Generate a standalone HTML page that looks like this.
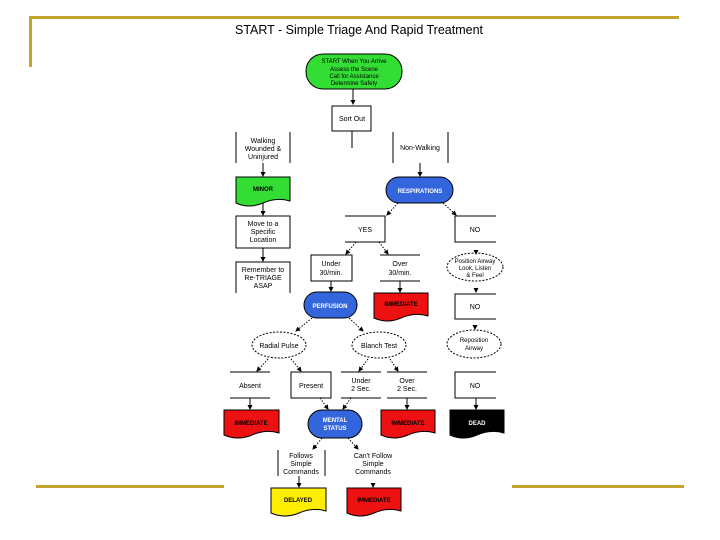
<!DOCTYPE html>
<html><head><meta charset="utf-8"><style>
html,body{margin:0;padding:0;background:#fff;width:720px;height:540px;overflow:hidden}
svg{display:block}
text{font-family:"Liberation Sans",sans-serif;font-size:7px;fill:#000;text-anchor:middle}
.w{fill:#fff;font-weight:bold;font-size:6px}
.b{font-weight:bold;font-size:6px}
</style></head><body>
<svg width="720" height="540" viewBox="0 0 720 540">
<defs><marker id="a" markerWidth="5" markerHeight="5" refX="4" refY="2.5" orient="auto"><path d="M0,0L5,2.5L0,5z" fill="#000"/></marker></defs>
<g fill="#c4a22e">
<rect x="29" y="16" width="650" height="3"/>
<rect x="29" y="16" width="3" height="51"/>
<rect x="36" y="485" width="188" height="3"/>
<rect x="512" y="485" width="172" height="3"/>
</g>
<text x="359" y="34" style="font-size:12.5px">START - Simple Triage And Rapid Treatment</text>
<g stroke="#000" stroke-width="1" fill="none">
<!-- start -->
<rect x="306" y="54" width="96" height="35" rx="17" fill="#33dd33"/>
<line x1="353" y1="89" x2="353" y2="104" marker-end="url(#a)"/>
<rect x="332" y="106" width="39" height="25" fill="#fff"/>
<line x1="352" y1="131" x2="352" y2="148"/>
<!-- walking -->
<line x1="236" y1="132" x2="236" y2="163"/><line x1="290" y1="132" x2="290" y2="163"/>
<line x1="393" y1="132" x2="393" y2="163"/><line x1="448" y1="132" x2="448" y2="163"/>
<line x1="263" y1="163" x2="263" y2="176" marker-end="url(#a)"/>
<line x1="420" y1="163" x2="420" y2="176" marker-end="url(#a)"/>
<path d="M236,177h54v24q-13,-4 -27,2t-27,0z" fill="#33dd33"/>
<rect x="386" y="177" width="67" height="26" rx="13" fill="#3366dd"/>
<line x1="263" y1="203" x2="263" y2="215" marker-end="url(#a)"/>
<rect x="236" y="216" width="54" height="32" fill="#fff"/>
<line x1="263" y1="248" x2="263" y2="261" marker-end="url(#a)"/>
<path d="M236,293v-31h54v31"/>
<!-- yes/no -->
<line x1="398" y1="203" x2="387" y2="215" stroke-dasharray="1.5,1.5" marker-end="url(#a)"/>
<line x1="443" y1="203" x2="456" y2="215" stroke-dasharray="1.5,1.5" marker-end="url(#a)"/>
<path d="M345,216h40v26h-40"/>
<path d="M496,216h-41v26h41"/>
<line x1="356" y1="242" x2="346" y2="254" stroke-dasharray="1.5,1.5" marker-end="url(#a)"/>
<line x1="379" y1="242" x2="388" y2="254" stroke-dasharray="1.5,1.5" marker-end="url(#a)"/>
<rect x="311" y="255" width="41" height="26"/>
<path d="M380,255h40M380,281h40"/>
<line x1="476" y1="250" x2="476" y2="254" marker-end="url(#a)"/>
<ellipse cx="475" cy="267" rx="28" ry="14" stroke-dasharray="2,1.5"/>
<line x1="331" y1="281" x2="331" y2="291" marker-end="url(#a)"/>
<line x1="400" y1="281" x2="400" y2="292" marker-end="url(#a)"/>
<rect x="304" y="292" width="53" height="26" rx="13" fill="#3366dd"/>
<path d="M374,293h54v23q-13,-4 -27,2t-27,0z" fill="#ee1111"/>
<line x1="476" y1="290" x2="476" y2="292" marker-end="url(#a)"/>
<path d="M496,294h-41v25h41"/>
<!-- perfusion branches -->
<line x1="312" y1="318" x2="296" y2="331" stroke-dasharray="1.5,1.5" marker-end="url(#a)"/>
<line x1="349" y1="318" x2="363" y2="331" stroke-dasharray="1.5,1.5" marker-end="url(#a)"/>
<ellipse cx="279" cy="345" rx="27" ry="13" stroke-dasharray="2,1.5"/>
<ellipse cx="379" cy="345" rx="27" ry="13" stroke-dasharray="2,1.5"/>
<line x1="475" y1="326" x2="475" y2="329" marker-end="url(#a)"/>
<ellipse cx="474" cy="344" rx="27" ry="14" stroke-dasharray="2,1.5"/>
<line x1="268" y1="359" x2="257" y2="371" stroke-dasharray="1.5,1.5" marker-end="url(#a)"/>
<line x1="291" y1="359" x2="301" y2="371" stroke-dasharray="1.5,1.5" marker-end="url(#a)"/>
<line x1="368" y1="359" x2="359" y2="371" stroke-dasharray="1.5,1.5" marker-end="url(#a)"/>
<line x1="390" y1="359" x2="398" y2="371" stroke-dasharray="1.5,1.5" marker-end="url(#a)"/>
<path d="M230,372h40M230,398h40"/>
<rect x="291" y="372" width="40" height="26"/>
<path d="M341,372h40M341,398h40M387,372h40M387,398h40"/>
<path d="M496,372h-41v26h41"/>
<line x1="250" y1="398" x2="250" y2="409" marker-end="url(#a)"/>
<line x1="320" y1="398" x2="328" y2="409" stroke-dasharray="1.5,1.5" marker-end="url(#a)"/>
<line x1="351" y1="398" x2="343" y2="409" stroke-dasharray="1.5,1.5" marker-end="url(#a)"/>
<line x1="407" y1="398" x2="407" y2="409" marker-end="url(#a)"/>
<line x1="476" y1="398" x2="476" y2="409" marker-end="url(#a)"/>
<path d="M224,410h55v23q-13,-4 -27,2t-28,0z" fill="#ee1111"/>
<rect x="308" y="410" width="54" height="28" rx="14" fill="#3366dd"/>
<path d="M381,410h54v23q-13,-4 -27,2t-27,0z" fill="#ee1111"/>
<path d="M450,410h54v23q-13,-4 -27,2t-27,0z" fill="#000"/>
<line x1="322" y1="438" x2="313" y2="449" stroke-dasharray="1.5,1.5" marker-end="url(#a)"/>
<line x1="348" y1="438" x2="358" y2="449" stroke-dasharray="1.5,1.5" marker-end="url(#a)"/>
<line x1="278" y1="450" x2="278" y2="476"/><line x1="325" y1="450" x2="325" y2="476"/>
<line x1="299" y1="476" x2="299" y2="487" marker-end="url(#a)"/>
<line x1="373" y1="484" x2="373" y2="487" marker-end="url(#a)"/>
<path d="M271,488h55v23q-13,-4 -27,2t-28,0z" fill="#ffee00"/>
<path d="M347,488h54v23q-13,-4 -27,2t-27,0z" fill="#ee1111"/>
</g>
<text x="354" y="63" style="font-size:6px">START When You Arrive</text>
<text x="354" y="71" style="font-size:6px">Assess the Scene</text>
<text x="354" y="78" style="font-size:6px">Call for Assistance</text>
<text x="354" y="85" style="font-size:6px">Determine Safety</text>
<text x="352" y="121">Sort Out</text>
<text x="263" y="143">Walking</text><text x="263" y="151">Wounded &amp;</text><text x="263" y="159">Uninjured</text>
<text x="420" y="150">Non-Walking</text>
<text class="b" x="263" y="191">MINOR</text>
<text class="w" x="420" y="193">RESPIRATIONS</text>
<text x="263" y="226">Move to a</text><text x="263" y="234">Specific</text><text x="263" y="242">Location</text>
<text x="263" y="272">Remember to</text><text x="263" y="280">Re-TRIAGE</text><text x="263" y="288">ASAP</text>
<text x="365" y="232">YES</text><text x="475" y="232">NO</text>
<text x="331" y="266">Under</text><text x="331" y="275">30/min.</text>
<text x="400" y="266">Over</text><text x="400" y="275">30/min.</text>
<text x="475" y="263" style="font-size:6px">Position Airway</text><text x="475" y="270" style="font-size:6px">Look, Listen</text><text x="475" y="277" style="font-size:6px">&amp; Feel</text>
<text class="w" x="330" y="308">PERFUSION</text>
<text class="b" x="401" y="306" style="fill:#000">IMMEDIATE</text>
<text x="475" y="309">NO</text>
<text x="279" y="348">Radial Pulse</text><text x="379" y="348">Blanch Test</text>
<text x="474" y="342" style="font-size:6px">Reposition</text><text x="474" y="350" style="font-size:6px">Airway</text>
<text x="250" y="388">Absent</text><text x="311" y="388">Present</text>
<text x="361" y="383">Under</text><text x="361" y="391">2 Sec.</text>
<text x="407" y="383">Over</text><text x="407" y="391">2 Sec.</text>
<text x="475" y="388">NO</text>
<text class="b" x="251" y="425">IMMEDIATE</text>
<text class="w" x="335" y="422">MENTAL</text><text class="w" x="335" y="430">STATUS</text>
<text class="b" x="408" y="425">IMMEDIATE</text>
<text class="w" x="477" y="425">DEAD</text>
<text x="301" y="458">Follows</text><text x="301" y="466">Simple</text><text x="301" y="474">Commands</text>
<text x="373" y="458">Can't Follow</text><text x="373" y="466">Simple</text><text x="373" y="474">Commands</text>
<text class="b" x="298" y="502">DELAYED</text>
<text class="b" x="374" y="502">IMMEDIATE</text>
</svg>
</body></html>
